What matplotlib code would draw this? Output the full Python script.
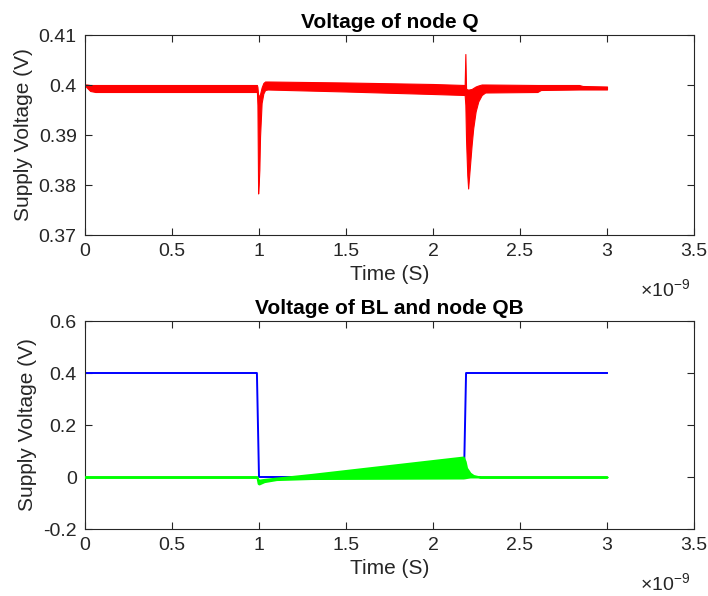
import matplotlib
matplotlib.use("Agg")
import matplotlib.pyplot as plt
from matplotlib.ticker import FuncFormatter, MultipleLocator

plt.rcParams["font.family"] = ["Liberation Sans", "DejaVu Sans"]
plt.rcParams["mathtext.default"] = "regular"

# Node Q: envelope of the overlapping transient traces (time in ns, volts)
q_time = [0.000, 0.010, 0.030, 0.060, 0.500, 0.988, 0.991, 0.995, 0.998,
          1.002, 1.006, 1.015, 1.025, 1.035, 1.050, 1.500, 2.000, 2.182,
          2.186, 2.190, 2.197, 2.202, 2.207, 2.222, 2.231, 2.245, 2.260,
          2.280, 2.300, 2.600, 2.620, 2.840, 2.860, 3.000]
q_upper = [0.4001, 0.4001, 0.4000, 0.4000, 0.4000, 0.4000, 0.3996, 0.3980, 0.3978,
           0.3979, 0.3982, 0.3995, 0.4004, 0.4007, 0.4007, 0.4005, 0.4002, 0.4000,
           0.4062, 0.3993, 0.3991, 0.3991, 0.3991, 0.3992, 0.3994, 0.3997, 0.3999,
           0.4001, 0.4001, 0.4000, 0.4000, 0.4000, 0.3998, 0.3997]
q_lower = [0.3999, 0.3995, 0.3988, 0.3986, 0.3986, 0.3986, 0.3960, 0.3783, 0.3800,
           0.3830, 0.3897, 0.3964, 0.3983, 0.3990, 0.3991, 0.3987, 0.3982, 0.3980,
           0.3960, 0.3890, 0.3820, 0.3793, 0.3815, 0.3880, 0.3913, 0.3947, 0.3967,
           0.3980, 0.3985, 0.3986, 0.3990, 0.3991, 0.3991, 0.3991]

# Bit line (BL)
bl_time = [0.0, 0.988, 1.000, 2.178, 2.190, 3.0]
bl_volt = [0.4, 0.4, 0.0, 0.0, 0.4, 0.4]

# Node QB: envelope of the overlapping traces
qb_time = [0.000, 0.988, 0.995, 1.000, 1.030, 1.100, 1.300, 2.174, 2.185,
           2.193, 2.213, 2.232, 2.270, 3.000]
qb_upper = [0.0, 0.0, -0.010, -0.012, -0.009, -0.004, 0.010, 0.077, 0.060,
            0.035, 0.015, 0.006, 0.0, 0.0]
qb_lower = [0.0, 0.0, -0.025, -0.027, -0.018, -0.010, -0.006, -0.004, -0.003,
            -0.002, 0.0, 0.0, 0.0, 0.0]

x_ticks = [0, 0.5, 1, 1.5, 2, 2.5, 3, 3.5]

AX_COLOR = "#262626"
TICK_FS = 14
LABEL_FS = 15

fig = plt.figure(figsize=(7.08, 5.96), dpi=100)
ax1 = fig.add_axes([85 / 708, 1 - 235 / 596, 609 / 708, 200 / 596])
ax2 = fig.add_axes([85 / 708, 1 - 529 / 596, 609 / 708, 208 / 596])

fmt = FuncFormatter(lambda v, p: "%g" % round(v, 6))


def style(ax):
    ax.set_xlim(0, 3.5)
    ax.set_xticks(x_ticks)
    ax.xaxis.set_major_formatter(fmt)
    ax.yaxis.set_major_formatter(fmt)
    ax.tick_params(direction="in", top=True, right=True, length=5, width=0.8,
                   colors=AX_COLOR, labelsize=TICK_FS, pad=6)
    for s in ax.spines.values():
        s.set_color(AX_COLOR)
        s.set_linewidth(0.8)
    ax.set_xlabel("Time (S)", fontsize=LABEL_FS, color=AX_COLOR, labelpad=3)
    ax.set_ylabel("Supply Voltage (V)", fontsize=LABEL_FS, color=AX_COLOR, labelpad=4)
    ax.annotate(r"$\times$10$^{-9}$", xy=(1, 0), xycoords="axes fraction",
                xytext=(-3, -39), textcoords="offset points", ha="right",
                va="center", fontsize=TICK_FS, color=AX_COLOR)


# Upper panel: node Q
ax1.fill_between(q_time, q_lower, q_upper, facecolor="#ff0000",
                 edgecolor="#ff0000", linewidth=0.8)
ax1.set_ylim(0.37, 0.41)
ax1.yaxis.set_major_locator(MultipleLocator(0.01))
style(ax1)
ax1.set_title("Voltage of node Q", fontsize=LABEL_FS, fontweight="bold", pad=5)

# Lower panel: BL and node QB (QB drawn over BL)
ax2.plot(bl_time, bl_volt, color="#0000ff", linewidth=1.4, zorder=2)
ax2.fill_between(qb_time, qb_lower, qb_upper, facecolor="#00ff00",
                 edgecolor="#00ff00", linewidth=1.4, zorder=3)
ax2.set_ylim(-0.2, 0.6)
ax2.yaxis.set_major_locator(MultipleLocator(0.2))
style(ax2)
ax2.set_title("Voltage of BL and node QB", fontsize=LABEL_FS, fontweight="bold", pad=5)

fig.savefig("out.png", dpi=100, facecolor="white")
